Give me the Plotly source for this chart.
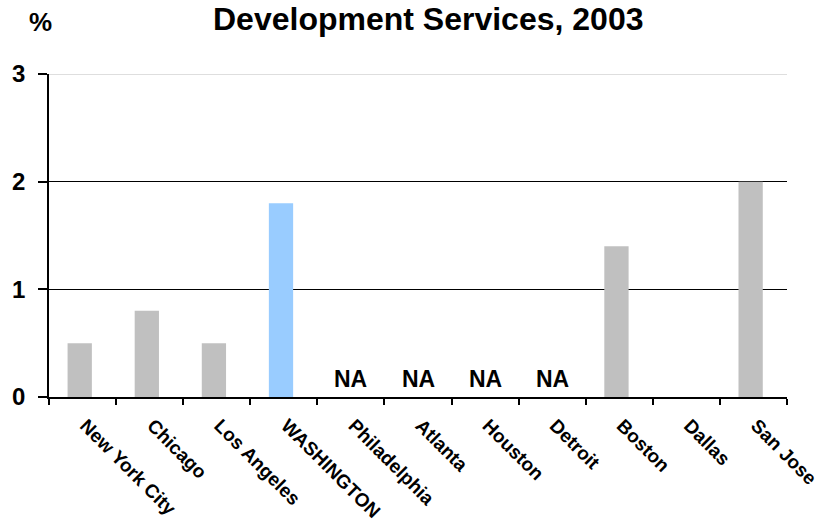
import plotly.graph_objects as go

cities = ["New York City", "Chicago", "Los Angeles", "WASHINGTON", "Philadelphia",
          "Atlanta", "Houston", "Detroit", "Boston", "Dallas", "San Jose"]
values = [0.5, 0.8, 0.5, 1.8, None, None, None, None, 1.4, 0, 2.0]
na_cities = ["Philadelphia", "Atlanta", "Houston", "Detroit"]
y_ticks = [0, 1, 2, 3]

GRAY = "#C0C0C0"
BLUE = "#99CCFF"
colors = [BLUE if c == "WASHINGTON" else GRAY for c in cities]
FONT = "Arial, Liberation Sans, sans-serif"

fig = go.Figure()
fig.add_trace(go.Bar(
    x=cities, y=values, marker=dict(color=colors, line=dict(width=0)),
    width=0.362, offset=-0.223, showlegend=False, hoverinfo="x+y",
))

# "NA" markers for cities without data
na_notes = [
    dict(text="NA", x=c, y=0, xref="x", yref="y", xanchor="center", yanchor="bottom",
         yshift=3, showarrow=False,
         font=dict(family=FONT, size=23, color="black", weight="bold"))
    for c in na_cities
]

# lighter line marking the top of the value range
fig.add_shape(type="line", xref="paper", yref="y", x0=0, x1=1, y0=3, y1=3,
              line=dict(color="#BDBDBD", width=1))

fig.update_layout(
    width=825, height=529,
    margin=dict(l=49, r=38, t=74, b=132, autoexpand=False),
    plot_bgcolor="white", paper_bgcolor="white",
    font=dict(family=FONT, color="black"),
    annotations=na_notes + [
        dict(text="Development Services, 2003", xref="paper", yref="paper",
             x=0.513, y=1.0, yshift=35, xanchor="center", yanchor="bottom",
             showarrow=False, font=dict(family=FONT, size=32, weight="bold")),
        dict(text="%", xref="paper", yref="paper", x=-0.0115, y=1.0, yshift=52,
             xanchor="center", yanchor="middle", showarrow=False,
             font=dict(family=FONT, size=26, weight="bold")),
    ],
)
fig.update_xaxes(
    type="category", categoryorder="array", categoryarray=cities,
    tickangle=45, tickson="boundaries", ticks="outside", ticklen=6,
    tickwidth=2, tickcolor="black", ticklabelstandoff=8, ticklabelshift=3,
    automargin=False,
    showline=True, linecolor="black", linewidth=2, showgrid=False,
    tickfont=dict(family=FONT, size=19, weight="bold"),
)
fig.update_yaxes(
    range=[0, 3], tickvals=y_ticks, ticks="outside", ticklen=9, tickcolor="black",
    tickwidth=1.5, ticklabelstandoff=8, automargin=False,
    showline=True, linecolor="black", linewidth=1.5,
    showgrid=True, gridcolor="black", gridwidth=1, zeroline=False,
    tickfont=dict(family=FONT, size=24, weight="bold"),
)

fig.write_html("out.html")
